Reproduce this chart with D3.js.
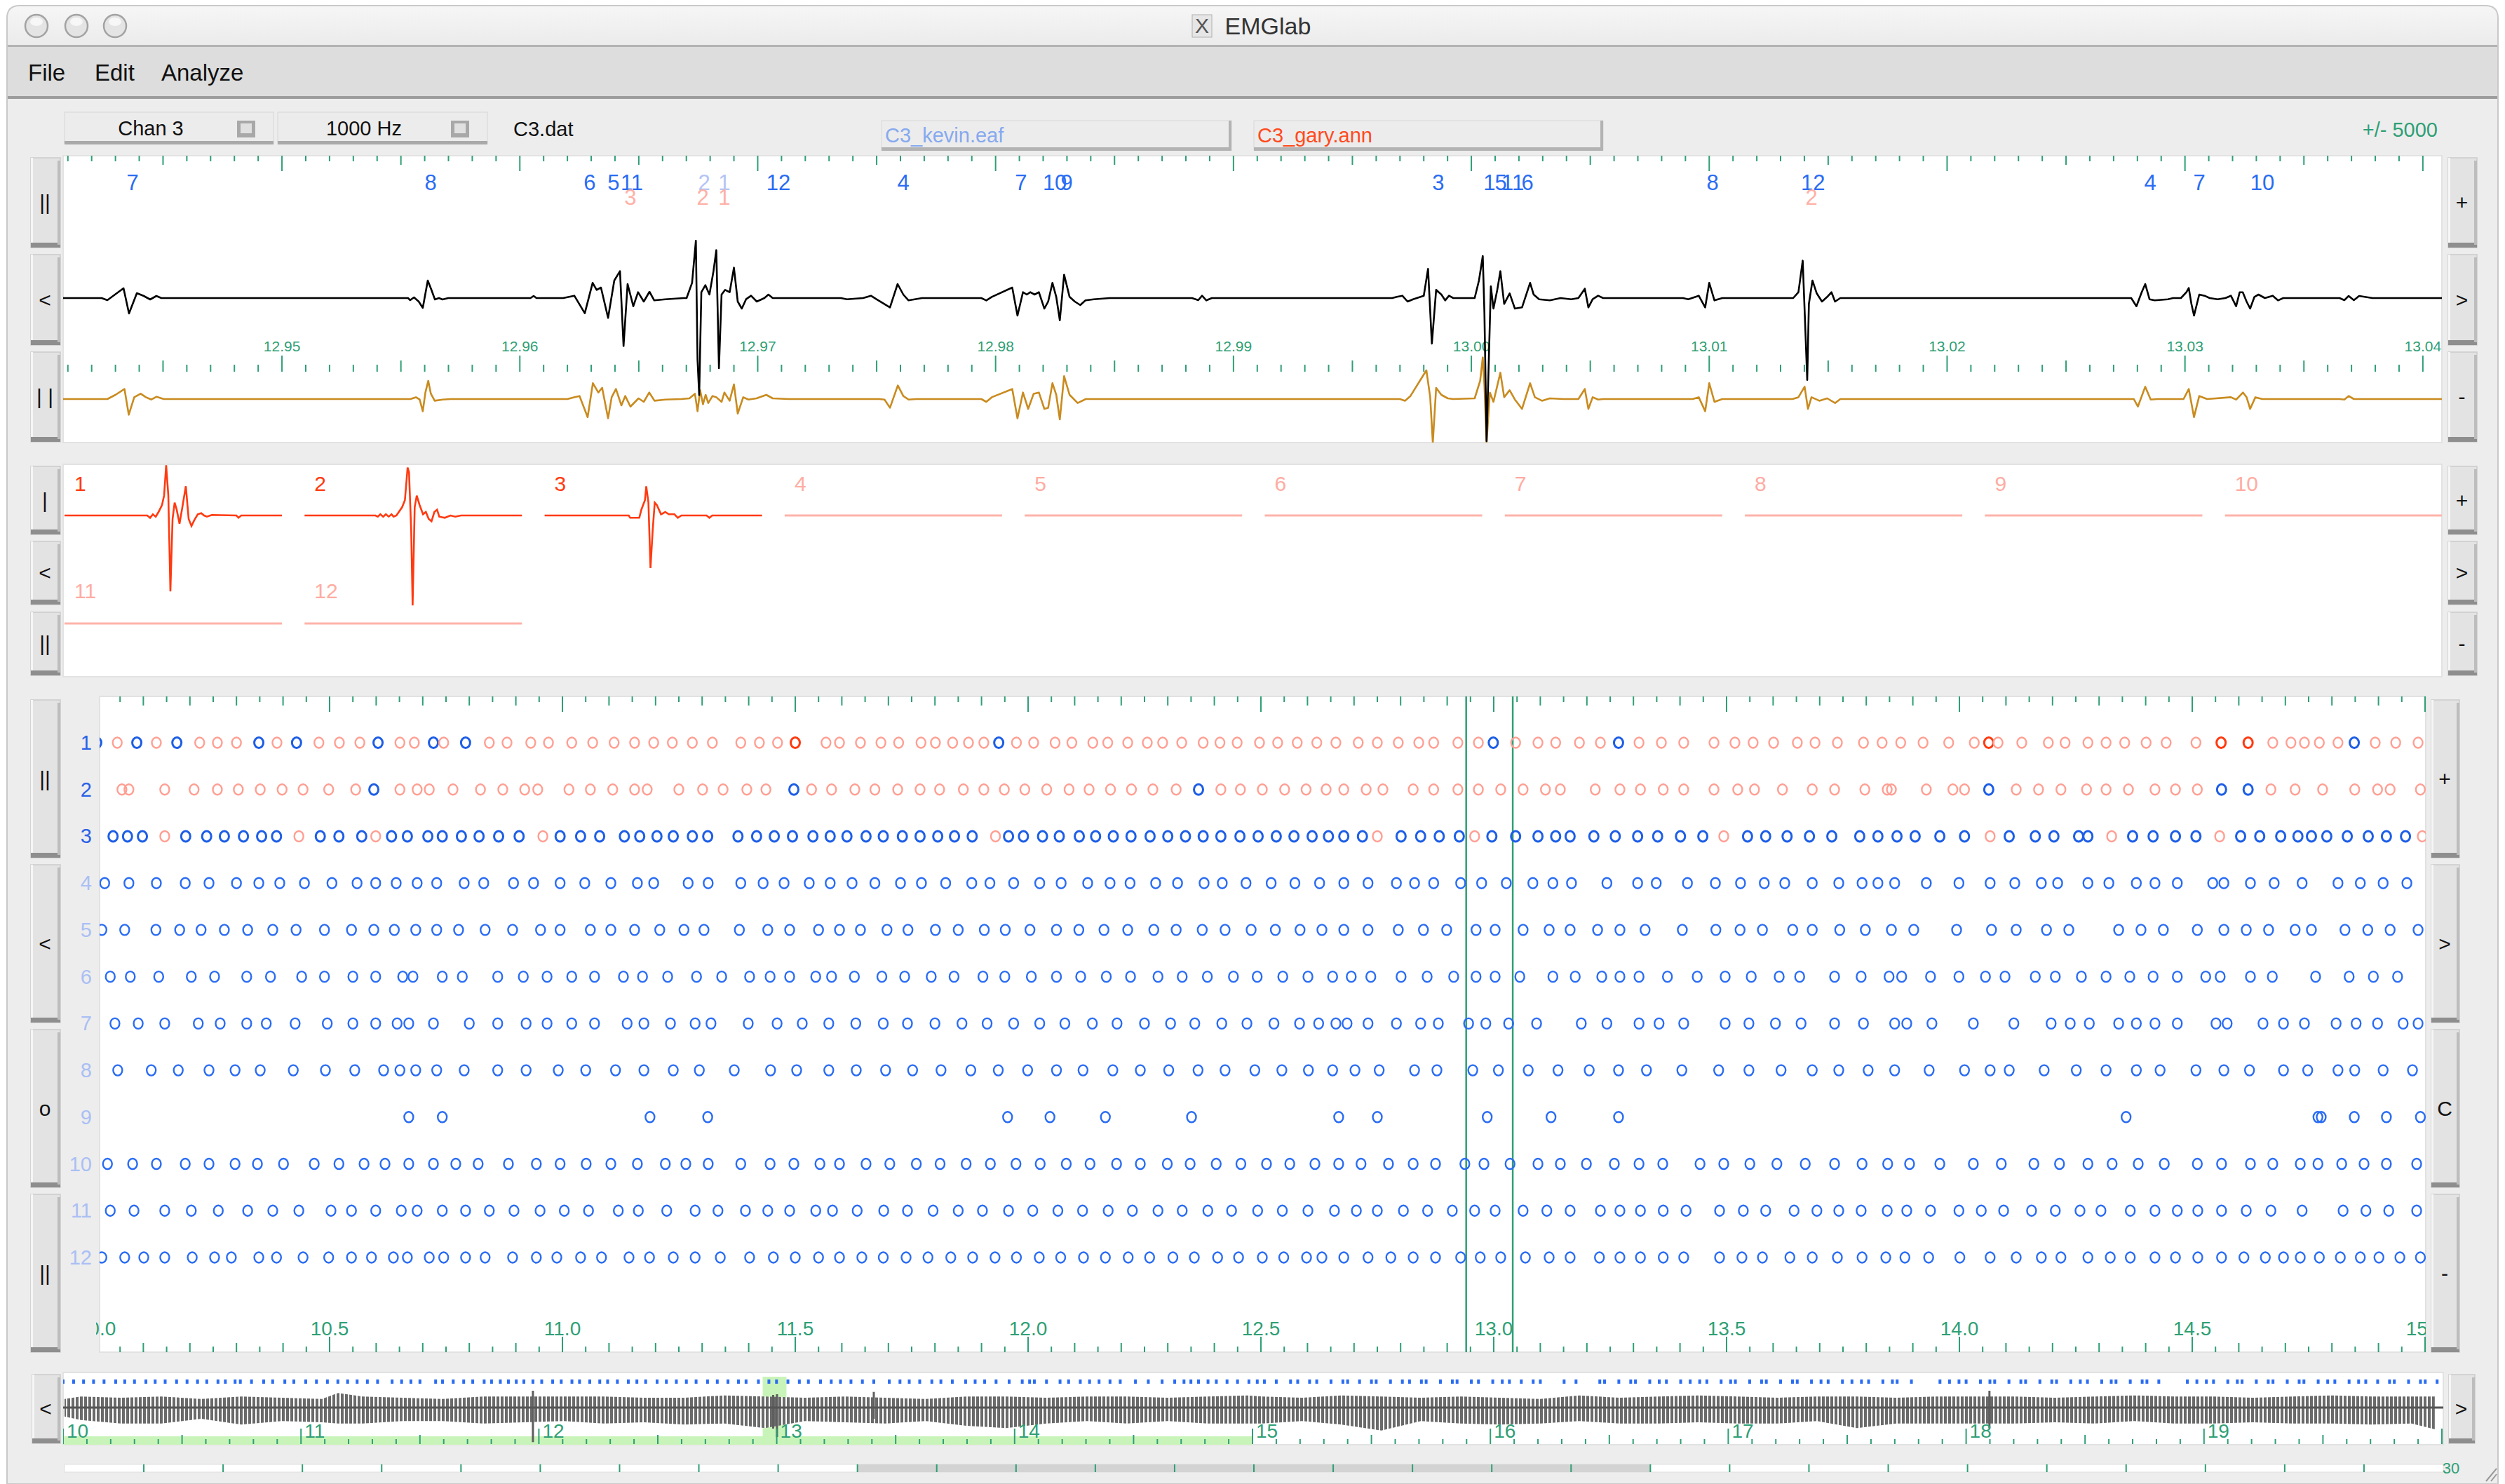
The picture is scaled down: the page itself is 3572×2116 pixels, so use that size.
<!DOCTYPE html>
<html><head><meta charset="utf-8">
<script src="https://cdn.jsdelivr.net/npm/d3@7"></script>
<style>html,body{margin:0;padding:0;background:#fff;}svg{display:block;font-family:"Liberation Sans",Arial,sans-serif;}</style>
</head><body><svg id="c" width="3572" height="2116"></svg>
<script>
// ---------------- DATA ----------------
const menuItems = ["File","Edit","Analyze"];
const channelLabel = "Chan 3", rateLabel = "1000 Hz", dataFile = "C3.dat";
const annFileA = "C3_kevin.eaf", annFileB = "C3_gary.ann", rangeLabel = "+/- 5000";

// signal window (s) and traces: [ms after signalT0, microvolts]
const signalT0 = 12.94;
const signalWindow = [12.9408, 13.0408];
const signalTickLabels = ["12.95","12.96","12.97","12.98","12.99","13.00","13.01","13.02","13.03","13.04"];
const blackTrace = [[0.8,0],
[2.42,0],[2.66,-75],[2.98,125],[3.34,350],[3.57,-550],[3.90,175],[4.19,75],[4.46,-50],[4.72,75],[4.93,0],
[15.30,0],[15.39,-75],[15.55,25],[15.75,-125],[15.92,-350],[16.13,625],[16.28,300],[16.43,-50],[16.6,0],[16.75,-50],[16.99,0],
[20.45,0],[20.58,75],[20.7,0],
[21.82,0],[22.29,83],[22.73,-542],[23.06,542],[23.23,292],[23.41,375],[23.71,-708],[23.97,625],[24.21,958],[24.36,-1708],[24.53,500],[24.77,-292],[24.97,208],[25.21,-125],[25.45,225],[25.65,-83],[26.12,-42],[26.89,0],
[27.01,0],[27.24,542],[27.40,2042],[27.47,-2200],[27.54,-3458],[27.63,208],[27.80,458],[27.97,125],[28.14,958],[28.26,1708],[28.37,-2500],[28.48,125],[28.63,292],[28.82,208],[29.00,1083],[29.16,-125],[29.33,-375],[29.51,-42],[29.72,83],[29.96,-125],[30.28,0],[30.45,125],[30.63,0],
[33.5,0],[33.75,-42],[34.43,0],[34.76,83],[34.99,-42],[35.56,-333],[35.88,500],[36.12,125],[36.34,-83],[36.91,0],
[39.4,0],[39.61,-83],[39.84,42],[40.70,375],[40.92,-625],[41.15,208],[41.31,125],[41.46,208],[41.64,125],[41.82,208],[42.05,-375],[42.21,-125],[42.39,542],[42.55,42],[42.70,-792],[42.88,833],[43.11,42],[43.33,-125],[43.56,-250],[43.78,-83],[44.13,-42],[44.80,0],
[48.26,0],[48.52,-75],[48.68,83],[48.86,-83],[49.09,0],
[56.67,0],[56.87,42],[57.10,83],[57.32,-125],[57.55,-42],[58.00,83],[58.18,1042],[58.34,-1625],[58.52,292],[58.74,125],[58.90,-83],[59.06,83],[59.24,0],
[60.14,0],[60.32,625],[60.48,1500],[60.55,-542],[60.64,-5100],[60.82,417],[60.93,-375],[61.09,292],[61.22,958],[61.38,-208],[61.61,167],[61.83,-375],[62.13,-333],[62.47,542],[62.62,125],[62.85,-42],[63.30,-83],[63.75,0],[64.20,-42],[64.50,0],[64.77,333],[64.92,-333],[65.10,-42],[65.33,83],[65.54,0],
[68.90,0],[69.12,-42],[69.56,83],[69.83,-333],[70.00,542],[70.22,-83],[70.55,0],
[73.53,0],[73.75,208],[73.93,1333],[74.03,-875],[74.12,-2917],[74.19,-208],[74.34,625],[74.52,167],[74.74,-125],[74.96,42],[75.14,208],[75.29,-125],[75.51,0],
[87.74,0],[87.96,-292],[88.18,208],[88.33,500],[88.51,-42],[88.73,-83],[89.28,-42],[89.50,0],
[89.83,0],[90.06,208],[90.16,358],[90.27,-208],[90.38,-625],[90.60,125],[90.82,83],[91.04,0],[91.37,-42],[91.70,0],
[91.93,83],[92.15,-292],[92.30,208],[92.43,208],[92.59,-125],[92.74,-375],[92.92,42],[93.09,125],[93.36,0],[93.69,83],[93.91,-83],[94.13,0],
[96.50,0],[96.70,-75],[96.88,75],[97.10,-75],[97.32,75],[97.88,0],[100.8,0]];
const orangeTrace = [[0.8,0],[2.66,0],[3.00,150],[3.38,358],[3.56,-560],[3.79,65],[4.06,190],[4.28,65],[4.51,-18],[4.73,83],[5.03,0],
[15.40,0],[15.63,65],[15.79,-18],[15.92,-435],[16.03,233],[16.15,650],[16.26,190],[16.42,-60],[16.76,-18],[17.09,0],
[22.0,0],[22.28,65],[22.51,108],[22.85,-642],[23.07,565],[23.30,233],[23.46,400],[23.71,-685],[23.86,65],[24.04,358],[24.27,-225],[24.43,108],[24.65,-268],[24.99,25],[25.21,-100],[25.44,233],[25.66,-60],[26.12,-18],[26.79,0],
[27.13,25],[27.36,190],[27.47,-435],[27.58,315],[27.70,-185],[27.81,150],[27.92,-142],[28.10,108],[28.26,65],[28.48,-100],[28.60,233],[28.82,-60],[29.00,525],[29.16,-518],[29.39,65],[29.61,-18],[29.95,25],[30.36,150],[30.63,25],[31.30,0],
[35.1,0],[35.33,-18],[35.56,-310],[35.89,483],[36.12,108],[36.34,-18],[36.68,0],
[39.4,0],[39.61,-100],[39.84,65],[40.70,358],[40.92,-685],[41.15,233],[41.37,-350],[41.60,190],[41.82,233],[42.05,-350],[42.21,-310],[42.39,565],[42.55,150],[42.70,-725],[42.88,815],[43.11,150],[43.45,-142],[43.79,0],
[57.0,0],[57.21,-60],[57.44,108],[58.11,1025],[58.27,65],[58.38,-1560],[58.52,400],[58.74,150],[59.01,25],[59.24,0],
[60.14,25],[60.37,650],[60.48,1483],[60.55,483],[60.64,-1560],[60.78,233],[60.93,-100],[61.22,940],[61.38,65],[61.61,315],[61.83,-18],[62.13,-350],[62.47,565],[62.67,65],[62.97,-60],[63.30,25],[63.87,0],[64.5,0],[64.77,358],[64.92,-350],[65.10,65],[65.33,-18],[65.55,0],
[69.3,0],[69.56,65],[69.83,-435],[70.00,565],[70.22,-100],[70.55,0],
[73.5,0],[73.75,65],[74.01,440],[74.15,-350],[74.30,65],[74.63,-60],[74.96,25],[75.29,-142],[75.51,0],
[87.85,0],[88.02,-268],[88.33,440],[88.56,-18],[88.84,0],
[89.94,0],[90.16,358],[90.38,-642],[90.60,108],[90.93,0],
[91.93,65],[92.15,-18],[92.44,233],[92.59,65],[92.74,-350],[92.96,65],[93.25,0],
[96.5,0],[96.70,-18],[96.88,108],[97.1,0],[100.8,0]];
// annotation labels in the signal window: [ms after signalT0, unit, faded?]
const kevinLabels = [[3.72,"7",0],[16.25,"8",0],[22.94,"6",0],[23.94,"5",0],[24.71,"11",0],[27.75,"2",1],[28.60,"1",1],[30.87,"12",0],[36.12,"4",0],[41.07,"7",0],[42.49,"10",0],[42.99,"9",0],[58.61,"3",0],[60.76,"1",0],[61.24,"5",0],[61.74,"11",0],[62.36,"6",0],[70.14,"8",0],[74.36,"12",0],[88.54,"4",0],[90.60,"7",0],[93.25,"10",0]];
const garyLabels = [[24.65,"3"],[27.69,"2"],[28.60,"1"],[74.30,"2"]];

// templates: [ms, microvolts]
const templateUnits = ["1","2","3","4","5","6","7","8","9","10","11","12"];
const templateActive = [1,1,1,0,0,0,0,0,0,0,0,0];
const template1 = [[-10,0],[-2.39,0],[-2.13,-83],[-1.87,42],[-1.61,-42],[-1.35,125],[-1.03,375],[-0.84,708],[-0.65,1792],[-0.45,708],[-0.26,-2708],[-0.06,-125],[0.13,458],[0.32,208],[0.58,-292],[0.84,292],[1.16,1042],[1.42,-125],[1.68,-375],[1.94,-167],[2.26,42],[2.58,83],[2.84,0],[3.10,-42],[3.55,17],[5.81,0],[6.0,-83],[6.26,0],[10,0]];
const template2 = [[-10,0],[-3.48,0],[-3.26,-42],[-3.03,42],[-2.77,-42],[-2.52,42],[-2.26,-42],[-2.0,42],[-1.81,-42],[-1.55,0],[-1.03,292],[-0.77,542],[-0.52,1708],[-0.39,1542],[-0.19,-542],[-0.06,-3208],[0.13,292],[0.32,708],[0.58,375],[0.90,42],[1.16,125],[1.42,-125],[1.68,-208],[1.94,125],[2.19,208],[2.39,-42],[2.90,-83],[3.42,0],[3.87,-42],[4.39,0],[10,0]];
const template3 = [[-10,0],[-2.26,0],[-2.13,-83],[-1.29,-83],[-1.10,208],[-0.77,542],[-0.65,1042],[-0.45,458],[-0.26,-1875],[-0.06,-542],[0.13,458],[0.32,375],[0.71,42],[1.10,125],[1.42,42],[1.94,42],[2.26,-83],[2.58,0],[4.90,0],[5.16,-83],[5.42,0],[10,0]];
const templateFlat = [[-10,0],[10,0]];

// raster: firing times (s); units 1-3 carry a code b=both/blue, p=second rater only, r=disagreement
const rasterUnits = ["1","2","3","4","5","6","7","8","9","10","11","12"];
const rasterTickLabels = ["10.0","10.5","11.0","11.5","12.0","12.5","13.0","13.5","14.0","14.5","15.0"];
const unit1 = [[10.000,"b"],[10.044,"p"],[10.086,"b"],[10.128,"p"],[10.172,"b"],[10.221,"p"],[10.259,"p"],[10.300,"p"],[10.348,"b"],[10.387,"p"],[10.429,"b"],[10.477,"p"],[10.521,"p"],[10.565,"p"],[10.604,"b"],[10.651,"p"],[10.682,"p"],[10.723,"b"],[10.745,"p"],[10.792,"b"],[10.843,"p"],[10.881,"p"],[10.932,"p"],[10.970,"p"],[11.020,"p"],[11.065,"p"],[11.111,"p"],[11.155,"p"],[11.196,"p"],[11.236,"p"],[11.279,"p"],[11.322,"p"],[11.383,"p"],[11.423,"p"],[11.462,"p"],[11.500,"r"],[11.566,"p"],[11.595,"p"],
[11.640,"p"],[11.684,"p"],[11.722,"p"],[11.770,"p"],[11.801,"p"],[11.838,"p"],[11.872,"p"],[11.905,"p"],[11.937,"b"],[11.975,"p"],[12.012,"p"],[12.058,"p"],[12.094,"p"],[12.139,"p"],[12.171,"p"],[12.214,"p"],[12.256,"p"],[12.289,"p"],[12.330,"p"],[12.376,"p"],[12.412,"p"],[12.449,"p"],[12.497,"p"],[12.536,"p"],[12.578,"p"],[12.620,"p"],
[12.661,"p"],[12.709,"p"],[12.750,"p"],[12.795,"p"],[12.839,"p"],[12.871,"p"],[12.923,"p"],[12.967,"p"],[12.999,"b"],[13.047,"p"],[13.095,"p"],[13.133,"p"],[13.184,"p"],[13.229,"p"],[13.268,"b"],[13.312,"p"],[13.360,"p"],[13.408,"p"],[13.473,"p"],[13.518,"p"],[13.557,"p"],[13.601,"p"],[13.652,"p"],[13.690,"p"],[13.738,"p"],[13.794,"p"],[13.834,"p"],[13.874,"p"],[13.922,"p"],[13.977,"p"],[14.032,"p"],[14.063,"r"],[14.083,"p"],[14.134,"p"],[14.191,"p"],[14.227,"p"],[14.276,"p"],[14.315,"p"],[14.355,"p"],[14.401,"p"],[14.444,"p"],[14.508,"p"],[14.562,"r"],[14.620,"r"],[14.673,"p"],[14.712,"p"],[14.741,"p"],[14.773,"p"],[14.813,"p"],[14.848,"b"],[14.893,"p"],[14.937,"p"],[14.985,"p"]];
const unit2 = [[10.054,"p"],[10.069,"p"],[10.146,"p"],[10.209,"p"],[10.259,"p"],[10.304,"p"],[10.351,"p"],[10.398,"p"],[10.443,"p"],[10.498,"p"],[10.556,"p"],[10.595,"b"],[10.651,"p"],[10.688,"p"],[10.714,"p"],[10.765,"p"],[10.824,"p"],[10.872,"p"],[10.919,"p"],[10.947,"p"],[11.014,"p"],[11.060,"p"],[11.108,"p"],[11.155,"p"],[11.182,"p"],[11.250,"p"],[11.301,"p"],[11.345,"p"],[11.396,"p"],[11.437,"p"],[11.497,"b"],[11.535,"p"],[11.578,"p"],
[11.628,"p"],[11.671,"p"],[11.720,"p"],[11.768,"p"],[11.810,"p"],[11.861,"p"],[11.905,"p"],[11.949,"p"],[11.993,"p"],[12.040,"p"],[12.088,"p"],[12.131,"p"],[12.177,"p"],[12.222,"p"],[12.268,"p"],[12.318,"p"],[12.366,"b"],[12.414,"p"],[12.456,"p"],[12.503,"p"],[12.551,"p"],[12.597,"p"],[12.640,"p"],
[12.678,"p"],[12.726,"p"],[12.762,"p"],[12.827,"p"],[12.871,"p"],[12.923,"p"],[12.967,"p"],[13.015,"p"],[13.063,"p"],[13.111,"p"],[13.143,"p"],[13.218,"p"],[13.271,"p"],[13.315,"p"],[13.364,"p"],[13.408,"p"],[13.473,"p"],[13.524,"p"],[13.560,"p"],[13.620,"p"],[13.684,"p"],[13.732,"p"],[13.797,"p"],[13.845,"p"],[13.854,"p"],[13.929,"p"],[13.986,"p"],[14.011,"p"],[14.063,"b"],[14.122,"p"],[14.170,"p"],[14.218,"p"],[14.273,"p"],[14.315,"p"],[14.363,"p"],[14.420,"p"],[14.464,"p"],[14.511,"p"],[14.563,"b"],[14.620,"b"],[14.669,"p"],[14.721,"p"],[14.780,"p"],[14.849,"p"],[14.898,"p"],[14.925,"p"],[14.990,"p"]];
const unit3 = [[10.035,"b"],[10.066,"b"],[10.098,"b"],[10.146,"p"],[10.191,"b"],[10.236,"b"],[10.274,"b"],[10.315,"b"],[10.354,"b"],[10.386,"b"],[10.434,"p"],[10.480,"b"],[10.520,"b"],[10.569,"b"],[10.599,"p"],[10.633,"b"],[10.667,"b"],[10.711,"b"],[10.742,"b"],[10.783,"b"],[10.821,"b"],[10.863,"b"],[10.907,"b"],[10.958,"p"],[10.995,"b"],[11.039,"b"],[11.080,"b"],[11.133,"b"],[11.166,"b"],[11.203,"b"],[11.238,"b"],[11.279,"b"],[11.312,"b"],[11.377,"b"],[11.417,"b"],[11.455,"b"],[11.494,"b"],[11.538,"b"],[11.575,"b"],
[11.611,"b"],[11.652,"b"],[11.689,"b"],[11.730,"b"],[11.768,"b"],[11.806,"b"],[11.842,"b"],[11.880,"b"],[11.930,"p"],[11.958,"b"],[11.990,"b"],[12.031,"b"],[12.067,"b"],[12.110,"b"],[12.145,"b"],[12.183,"b"],[12.221,"b"],[12.262,"b"],[12.300,"b"],[12.338,"b"],[12.376,"b"],[12.414,"b"],[12.455,"b"],[12.494,"b"],[12.533,"b"],[12.571,"b"],[12.610,"b"],[12.645,"b"],
[12.678,"b"],[12.718,"b"],[12.750,"p"],[12.801,"b"],[12.843,"b"],[12.883,"b"],[12.926,"b"],[12.959,"p"],[12.996,"b"],[13.047,"b"],[13.095,"b"],[13.133,"b"],[13.164,"b"],[13.215,"b"],[13.261,"b"],[13.309,"b"],[13.352,"b"],[13.401,"b"],[13.449,"b"],[13.494,"p"],[13.545,"b"],[13.584,"b"],[13.630,"b"],[13.678,"b"],[13.726,"b"],[13.786,"b"],[13.825,"b"],[13.866,"b"],[13.905,"b"],[13.958,"b"],[14.011,"b"],[14.066,"p"],[14.107,"b"],[14.163,"b"],[14.203,"b"],[14.256,"b"],[14.276,"b"],[14.327,"p"],[14.372,"b"],[14.416,"b"],[14.464,"b"],[14.508,"b"],[14.559,"p"],[14.604,"b"],[14.645,"b"],[14.690,"b"],[14.727,"b"],[14.756,"b"],[14.789,"b"],[14.833,"b"],[14.878,"b"],[14.917,"b"],[14.958,"b"],[14.994,"p"]];
const unit4 = [10.017,10.069,10.128,10.190,10.241,10.300,10.348,10.393,10.446,10.505,10.559,10.599,10.643,10.688,10.730,10.789,10.831,10.895,10.938,10.995,11.048,11.104,11.161,11.196,11.270,11.313,11.383,11.431,11.476,11.530,11.575,
11.622,11.671,11.726,11.771,11.823,11.879,11.918,11.969,12.025,12.071,12.128,12.176,12.219,12.274,12.321,12.378,12.417,12.468,12.522,12.573,12.626,
12.678,12.730,12.791,12.830,12.871,12.929,12.974,13.027,13.084,13.127,13.167,13.243,13.309,13.349,13.416,13.476,13.530,13.581,13.625,13.684,13.741,13.791,13.825,13.861,13.929,13.999,14.066,14.119,14.176,14.211,14.276,14.321,14.380,14.420,14.468,14.544,14.568,14.625,14.676,14.736,14.813,14.861,14.910,14.961];
const unit5 = [10.011,10.060,10.127,10.178,10.224,10.274,10.324,10.378,10.428,10.489,10.547,10.595,10.639,10.685,10.730,10.777,10.834,10.893,10.953,10.995,11.060,11.104,11.155,11.209,11.261,11.304,11.380,11.441,11.488,11.550,11.595,
11.640,11.697,11.742,11.801,11.850,11.906,11.951,12.004,12.061,12.109,12.163,12.214,12.270,12.318,12.374,12.423,12.479,12.531,12.584,12.631,
12.678,12.730,12.795,12.849,12.899,12.962,13.003,13.063,13.119,13.164,13.223,13.271,13.325,13.405,13.477,13.529,13.577,13.642,13.684,13.743,13.798,13.854,13.902,13.994,14.069,14.122,14.187,14.235,14.342,14.390,14.438,14.511,14.568,14.616,14.664,14.721,14.756,14.828,14.877,14.925,14.985];
const unit6 = [10.029,10.072,10.133,10.203,10.253,10.322,10.373,10.440,10.489,10.550,10.599,10.657,10.679,10.742,10.785,10.861,10.916,10.967,11.020,11.069,11.131,11.172,11.226,11.288,11.342,11.402,11.446,11.488,11.544,11.578,
11.627,11.686,11.735,11.792,11.841,11.903,11.950,12.007,12.061,12.113,12.168,12.220,12.279,12.331,12.385,12.441,12.492,12.547,12.601,
12.654,12.694,12.736,12.801,12.857,12.914,12.962,13.003,13.056,13.127,13.175,13.232,13.271,13.312,13.373,13.437,13.497,13.553,13.613,13.657,13.732,13.789,13.849,13.876,13.938,13.999,14.056,14.098,14.163,14.206,14.262,14.315,14.366,14.416,14.468,14.529,14.560,14.625,14.672,14.765,14.837,14.889,14.941];
const unit7 = [10.039,10.089,10.146,10.218,10.265,10.322,10.364,10.426,10.495,10.550,10.599,10.645,10.670,10.723,10.800,10.861,10.922,10.967,11.020,11.069,11.139,11.175,11.232,11.285,11.319,11.399,11.461,11.515,11.572,
11.630,11.689,11.741,11.800,11.858,11.912,11.969,12.025,12.079,12.138,12.191,12.250,12.306,12.358,12.416,12.470,12.528,12.583,12.624,
12.661,12.685,12.730,12.791,12.843,12.881,12.946,12.983,13.032,13.092,13.188,13.243,13.312,13.355,13.408,13.497,13.548,13.605,13.660,13.732,13.794,13.861,13.887,13.941,14.030,14.117,14.197,14.238,14.279,14.342,14.380,14.420,14.468,14.551,14.575,14.652,14.696,14.741,14.809,14.852,14.898,14.953,14.985];
const unit8 = [10.045,10.117,10.175,10.241,10.297,10.351,10.422,10.491,10.554,10.616,10.651,10.685,10.730,10.789,10.861,10.922,10.991,11.050,11.114,11.175,11.238,11.294,11.369,11.447,11.503,11.572,
11.631,11.694,11.752,11.813,11.877,11.936,11.999,12.061,12.118,12.182,12.241,12.302,12.365,12.423,12.487,12.545,12.602,
12.654,12.702,12.754,12.830,12.878,12.955,13.010,13.074,13.138,13.205,13.268,13.328,13.404,13.483,13.548,13.617,13.684,13.741,13.804,13.861,13.935,14.011,14.066,14.107,14.182,14.251,14.315,14.380,14.431,14.508,14.568,14.623,14.696,14.748,14.813,14.849,14.910,14.973];
const unit9 = [10.670,10.742,11.188,11.312,11.956,12.047,12.166,12.351,12.667,12.750,12.986,13.123,13.268,14.358,14.770,14.777,14.848,14.917,14.990];
const unit10 = [10.023,10.077,10.128,10.190,10.241,10.297,10.345,10.401,10.467,10.520,10.574,10.619,10.670,10.723,10.771,10.819,10.884,10.944,10.995,11.051,11.104,11.161,11.221,11.265,11.313,11.383,11.446,11.497,11.553,11.595,
11.652,11.703,11.760,11.811,11.867,11.919,11.974,12.026,12.082,12.133,12.190,12.241,12.299,12.348,12.404,12.457,12.512,12.562,12.616,
12.667,12.715,12.774,12.827,12.875,12.938,12.979,13.035,13.095,13.143,13.199,13.259,13.312,13.363,13.443,13.494,13.550,13.608,13.669,13.732,13.791,13.846,13.893,13.958,14.030,14.090,14.160,14.215,14.276,14.328,14.384,14.440,14.511,14.563,14.625,14.673,14.732,14.770,14.821,14.869,14.917,14.982];
const unit11 = [10.029,10.080,10.146,10.203,10.261,10.324,10.378,10.434,10.503,10.547,10.599,10.654,10.688,10.742,10.792,10.843,10.896,10.952,11.004,11.056,11.120,11.163,11.224,11.285,11.334,11.393,11.441,11.488,11.544,11.580,
11.633,11.690,11.741,11.796,11.850,11.902,11.958,12.010,12.064,12.117,12.172,12.224,12.279,12.331,12.386,12.437,12.493,12.546,12.601,
12.658,12.705,12.750,12.806,12.858,12.911,12.959,13.003,13.063,13.114,13.164,13.229,13.271,13.315,13.364,13.413,13.485,13.536,13.584,13.645,13.694,13.741,13.789,13.845,13.887,13.938,13.999,14.047,14.095,14.155,14.206,14.259,14.304,14.367,14.420,14.468,14.512,14.563,14.616,14.669,14.736,14.824,14.873,14.922,14.982];
const unit12 = [10.011,10.060,10.101,10.146,10.205,10.253,10.289,10.348,10.386,10.443,10.498,10.547,10.590,10.637,10.667,10.714,10.745,10.792,10.834,10.893,10.944,10.988,11.039,11.084,11.143,11.187,11.238,11.285,11.339,11.402,11.453,11.500,11.550,11.595,
11.643,11.689,11.738,11.785,11.834,11.881,11.929,11.975,12.024,12.070,12.119,12.166,12.215,12.261,12.311,12.357,12.407,12.452,12.503,12.549,12.598,12.631,
12.678,12.730,12.779,12.827,12.875,12.929,12.971,13.015,13.068,13.119,13.164,13.227,13.271,13.315,13.364,13.408,13.485,13.533,13.577,13.636,13.684,13.738,13.791,13.842,13.883,13.934,14.001,14.066,14.122,14.176,14.218,14.276,14.324,14.367,14.420,14.464,14.512,14.563,14.611,14.657,14.696,14.732,14.773,14.818,14.861,14.901,14.946,14.990];

// overview (10-20 s): envelope of the whole signal (microvolts), isolated tall spikes, annotation marks (s)
const overviewTickLabels = ["10","11","12","13","14","15","16","17","18","19"];
const overviewT  = [10.006,10.074,10.242,10.413,10.581,10.749,10.920,11.088,11.156,11.259,11.427,11.595,11.766,12.105,12.273,12.441,12.612,12.780,12.951,13.119,13.287,13.458,13.626,13.797,13.965,14.133,14.304,14.472,14.643,14.811,14.979,15.041,15.209,15.374,15.542,15.708,15.876,16.041,16.209,16.374,16.542,16.707,16.875,17.040,17.208,17.373,17.541,17.706,17.874,18.207,18.373,18.541,18.706,18.874,19.039,19.207,19.372,19.540,19.705,19.873,19.970];
const overviewUp = [1230,1570,1400,1570,1230,1570,1400,1230,2070,1570,1400,1230,1570,1570,1570,1400,1400,1730,1570,1400,1570,1400,1230,1570,1570,1400,1570,1570,1400,1570,1730,1570,1400,1730,1570,1400,1570,1400,1230,1730,1400,1570,1730,1570,1400,1570,1570,1400,1570,1570,1400,1570,1730,1570,1570,1400,1570,1730,1570,1570,1570];
const overviewDown = [-1270,-1770,-2270,-2270,-1600,-2430,-1930,-2100,-2270,-2270,-1930,-1930,-2270,-1930,-2270,-2100,-2430,-2270,-2930,-1930,-2100,-2270,-1930,-2600,-2930,-2270,-1930,-2270,-1930,-2270,-2270,-2270,-1930,-2430,-3270,-1930,-2270,-2430,-2270,-1930,-2270,-2270,-2100,-2270,-2270,-1930,-2930,-2270,-2270,-2270,-2100,-2270,-1930,-2270,-2270,-2100,-2270,-2270,-2430,-2270,-3100];
const overviewSpikes = [[11.975,2400,-4930],[13.408,2230,-1600],[18.098,2400,-2930],[12.985,1800,-3000],[13.001,1900,-4200]];
const overviewMarksLate = [15.02,15.05,15.10,15.16,15.19,15.24,15.27,15.33,15.38,15.40,15.45,15.50,15.52,15.58,15.63,15.66,15.71,15.73,15.79,15.84,15.86,15.92,15.95,16.01,16.05,16.08,16.13,16.18,16.21,16.31,16.36,16.46,16.48,16.54,16.59,16.61,16.67,16.71,16.74,16.80,16.84,16.88,16.91,16.97,17.01,17.03,17.09,17.14,17.16,17.22,17.27,17.29,17.35,17.39,17.42,17.48,17.52,17.56,17.59,17.65,17.69,17.71,17.77,17.89,17.93,17.97,18.00,18.06,18.10,18.12,18.18,18.23,18.25,18.31,18.36,18.38,18.44,18.48,18.51,18.57,18.61,18.63,18.69,18.74,18.76,18.81,18.93,18.97,19.01,19.04,19.10,19.14,19.16,19.22,19.27,19.29,19.35,19.40,19.42,19.48,19.52,19.55,19.61,19.65,19.68,19.73,19.78,19.80,19.86,19.91,19.93,19.98];
const scrollTotal = 30, scrollView = [10, 20];

// ---------------- DRAWING ----------------
const GREEN="#2f9f75", BLUE="#2a6cf3", DBLUE="#1d5ee6", LBLUE="#aabff4", PINK="#ff9f93", RED="#ff3a10", ORANGE="#c98b1f";
const svg = d3.select("#c");
const defs = svg.append("defs");
function clip(id,x,y,w,h){defs.append("clipPath").attr("id",id).append("rect").attr("x",x).attr("y",y).attr("width",w).attr("height",h);}
const tg = defs.append("linearGradient").attr("id","tbar").attr("x1",0).attr("y1",0).attr("x2",0).attr("y2",1);
tg.append("stop").attr("offset","0").attr("stop-color","#f6f6f6");
tg.append("stop").attr("offset","1").attr("stop-color","#ebebeb");
const pat = defs.append("pattern").attr("id","hair").attr("patternUnits","userSpaceOnUse").attr("width",6).attr("height",200);
pat.append("rect").attr("width",6).attr("height",200).attr("fill","#ffffff");
pat.append("rect").attr("width",4).attr("height",200).attr("fill","#6a6a6a");

// window frame
svg.append("path").attr("d","M10,2116 V26 Q10,8 28,8 H3544 Q3562,8 3562,26 V2116 Z").attr("fill","#ededed").attr("stroke","#c9c9c9").attr("stroke-width",2);
svg.append("path").attr("d","M11,65 V27 Q11,9 29,9 H3543 Q3561,9 3561,27 V65 Z").attr("fill","url(#tbar)");
svg.append("rect").attr("x",11).attr("y",64).attr("width",3550).attr("height",3).attr("fill","#b3b3b3");
[52,109,164].forEach(cx=>{
  svg.append("circle").attr("cx",cx).attr("cy",37).attr("r",16).attr("fill","#e4e4e4").attr("stroke","#a3a3a3").attr("stroke-width",2.5);
  svg.append("ellipse").attr("cx",cx).attr("cy",31).attr("rx",9).attr("ry",6).attr("fill","#f7f7f7");
});
svg.append("rect").attr("x",1700).attr("y",21).attr("width",28).attr("height",32).attr("fill","#e6e6e6").attr("stroke","#b0b0b0");
svg.append("text").attr("x",1714).attr("y",47).attr("text-anchor","middle").attr("font-size",30).attr("fill","#555").text("X");
svg.append("text").attr("x",1808).attr("y",49).attr("text-anchor","middle").attr("font-size",34).attr("fill","#333").text("EMGlab");

// menu bar
svg.append("rect").attr("x",11).attr("y",67).attr("width",3550).attr("height",71).attr("fill","#dcdddc");
svg.append("rect").attr("x",11).attr("y",137).attr("width",3550).attr("height",4).attr("fill","#9d9d9d");
const menuX=[40,135,230];
menuItems.forEach((m,i)=>svg.append("text").attr("x",menuX[i]).attr("y",115).attr("font-size",33).attr("fill","#111").text(m));

// control row
function dropbox(x,w,label){
  svg.append("rect").attr("x",x).attr("y",160).attr("width",w).attr("height",45).attr("fill","#ececec").attr("stroke","#d6d6d6");
  svg.append("rect").attr("x",x).attr("y",201).attr("width",w).attr("height",5).attr("fill","#a9a9a9");
  svg.append("text").attr("x",x+123).attr("y",193).attr("text-anchor","middle").attr("font-size",29).attr("fill","#111").text(label);
  svg.append("rect").attr("x",x+w-52).attr("y",172).attr("width",26).attr("height",24).attr("fill","#a8a8a8");
  svg.append("rect").attr("x",x+w-47).attr("y",176).attr("width",16).attr("height",14).attr("fill","#e0e0e0");
}
dropbox(92,298,channelLabel); dropbox(396,299,rateLabel);
svg.append("text").attr("x",732).attr("y",194).attr("font-size",29).attr("fill","#111").text(dataFile);
function annbox(x,w,label,col){
  svg.append("rect").attr("x",x).attr("y",172).attr("width",w).attr("height",42).attr("fill","#ececec").attr("stroke","#d8d8d8");
  svg.append("rect").attr("x",x).attr("y",210).attr("width",w).attr("height",5).attr("fill","#b3b3b3");
  svg.append("rect").attr("x",x+w-4).attr("y",172).attr("width",4).attr("height",43).attr("fill","#b3b3b3");
  svg.append("text").attr("x",x+5).attr("y",203).attr("font-size",29).attr("fill",col).text(label);
}
annbox(1257,499,annFileA,"#86a9ef"); annbox(1788,498,annFileB,"#ff4a1c");
svg.append("text").attr("x",3476).attr("y",195).attr("text-anchor","end").attr("font-size",29).attr("fill",GREEN).text(rangeLabel);

// buttons
function button(x,y,w,h,label){
  const g=svg.append("g");
  g.append("rect").attr("x",x).attr("y",y).attr("width",w).attr("height",h).attr("fill","#e3e3e3").attr("stroke","#cbcbcb").attr("stroke-width",1.5);
  g.append("rect").attr("x",x).attr("y",y+h-7).attr("width",w).attr("height",7).attr("fill","#8e8e8e");
  g.append("rect").attr("x",x+w-4).attr("y",y+4).attr("width",4).attr("height",h-8).attr("fill","#bdbdbd");
  g.append("rect").attr("x",x).attr("y",y).attr("width",3).attr("height",h-7).attr("fill","#f6f6f6");
  g.append("text").attr("x",x+w/2-1).attr("y",y+h/2+10).attr("text-anchor","middle").attr("font-size",30).attr("fill","#111").text(label);
}

// ---------- top signal panel ----------
const TP={x:90,y:222,w:3392,h:409};
clip("cTop",TP.x,TP.y,TP.w,TP.h);
svg.append("rect").attr("x",TP.x).attr("y",TP.y).attr("width",TP.w).attr("height",TP.h).attr("fill","#fff").attr("stroke","#e2e2e2").attr("stroke-width",2);
const sx=d3.scaleLinear().domain(signalWindow).range([TP.x,TP.x+TP.w]);
const syB=d3.scaleLinear().domain([-5000,5000]).range([625,225]);
const syO=d3.scaleLinear().domain([-5000,5000]).range([769,369]);
const topG=svg.append("g").attr("clip-path","url(#cTop)");
d3.range(12941,13041).forEach(k=>{
  const x=sx(k/1000), len=k%10===0?22:(k%5===0?13:8), len2=k%10===0?23:(k%5===0?16:10);
  topG.append("line").attr("x1",x).attr("x2",x).attr("y1",TP.y).attr("y2",TP.y+len).attr("stroke",GREEN).attr("stroke-width",2);
  topG.append("line").attr("x1",x).attr("x2",x).attr("y1",530-len2).attr("y2",530).attr("stroke",GREEN).attr("stroke-width",2);
});
signalTickLabels.forEach(l=>topG.append("text").attr("x",sx(+l)).attr("y",501).attr("text-anchor","middle").attr("font-size",21).attr("fill",GREEN).text(l));
kevinLabels.forEach(d=>topG.append("text").attr("x",sx(signalT0+d[0]/1000)).attr("y",271).attr("text-anchor","middle").attr("font-size",31).attr("fill",d[2]?"#b3c4f6":BLUE).text(d[1]));
garyLabels.forEach(d=>topG.append("text").attr("x",sx(signalT0+d[0]/1000)).attr("y",292).attr("text-anchor","middle").attr("font-size",31).attr("fill","#ffb0a6").text(d[1]));
topG.append("path").datum(orangeTrace).attr("fill","none").attr("stroke",ORANGE).attr("stroke-width",2.6).attr("stroke-linejoin","round")
  .attr("d",d3.line().x(d=>sx(signalT0+d[0]/1000)).y(d=>syO(d[1])));
topG.append("path").datum(blackTrace).attr("fill","none").attr("stroke","#000").attr("stroke-width",2.6).attr("stroke-linejoin","round")
  .attr("d",d3.line().x(d=>sx(signalT0+d[0]/1000)).y(d=>syB(d[1])));
button(44,225,42,128,"||"); button(44,363,42,129,"<"); button(44,502,42,128,"| |");
button(3491,225,41,128,"+"); button(3491,363,41,129,">"); button(3491,502,41,128,"-");

// ---------- template panel ----------
const MP={x:90,y:662,w:3392,h:303};
clip("cTmp",MP.x,MP.y,MP.w,MP.h);
svg.append("rect").attr("x",MP.x).attr("y",MP.y).attr("width",MP.w).attr("height",MP.h).attr("fill","#fff").attr("stroke","#e2e2e2").attr("stroke-width",2);
const tmpG=svg.append("g").attr("clip-path","url(#cTmp)");
const tWaves=[template1,template2,template3];
const slot=d3.scaleLinear().domain([0,1]).range([92,434.3]);
templateUnits.forEach((u,i)=>{
  const col=i%10, row=Math.floor(i/10);
  const x0=slot(col), base=row?889:735;
  const tx=d3.scaleLinear().domain([-10,10]).range([x0,x0+310]);
  const ty=d3.scaleLinear().domain([-5000,5000]).range([base+200,base-200]);
  const c=templateActive[i]?RED:"#ffb3aa";
  tmpG.append("path").datum(tWaves[i]||templateFlat).attr("fill","none").attr("stroke",c).attr("stroke-width",templateActive[i]?2.6:3.2)
    .attr("d",d3.line().x(d=>tx(d[0])).y(d=>ty(d[1])));
  tmpG.append("text").attr("x",x0+14).attr("y",row?853:700).attr("font-size",30).attr("fill",templateActive[i]?RED:"#ffaca2").text(u);
});
button(44,665,42,97,"|"); button(44,772,42,90,"<"); button(44,873,42,90,"||");
button(3491,665,41,97,"+"); button(3491,772,41,90,">"); button(3491,873,41,90,"-");

// ---------- raster panel ----------
const RP={x:142,y:993,w:3317,h:935};
clip("cRas",RP.x,RP.y,RP.w,RP.h);
clip("cRasLab",137,RP.y,RP.w+5,RP.h);
svg.append("rect").attr("x",RP.x).attr("y",RP.y).attr("width",RP.w).attr("height",RP.h).attr("fill","#fff").attr("stroke","#e2e2e2").attr("stroke-width",2);
const rx=d3.scaleLinear().domain([10,15]).range([138,3458]);
const ry=d3.scaleLinear().domain([1,12]).range([1059,1793]);
const rasG=svg.append("g").attr("clip-path","url(#cRas)");
d3.range(200,301).forEach(k=>{
  const x=rx(k/20), len=k%10===0?22:(k%2===0?13:8);
  rasG.append("line").attr("x1",x).attr("x2",x).attr("y1",RP.y).attr("y2",RP.y+len).attr("stroke",GREEN).attr("stroke-width",2);
  rasG.append("line").attr("x1",x).attr("x2",x).attr("y1",RP.y+RP.h-len).attr("y2",RP.y+RP.h).attr("stroke",GREEN).attr("stroke-width",2);
});
const labG=svg.append("g").attr("clip-path","url(#cRasLab)");
rasterTickLabels.forEach(l=>labG.append("text").attr("x",rx(+l)).attr("y",1904).attr("text-anchor","middle").attr("font-size",28).attr("fill",GREEN).text(l));
signalWindow.forEach(t=>rasG.append("line").attr("x1",rx(t)).attr("x2",rx(t)).attr("y1",RP.y).attr("y2",RP.y+RP.h).attr("stroke",GREEN).attr("stroke-width",2.5));
const unitData=[unit1,unit2,unit3,unit4,unit5,unit6,unit7,unit8,unit9,unit10,unit11,unit12];
const codeCol={b:DBLUE,p:PINK,r:RED};
unitData.forEach((arr,i)=>{
  const y=ry(i+1);
  arr.forEach(d=>{
    const t=Array.isArray(d)?d[0]:d, c=Array.isArray(d)?codeCol[d[1]]:BLUE;
    const w=Array.isArray(d)&&d[1]!=="p"?3:2.4;
    rasG.append("ellipse").attr("cx",rx(t)).attr("cy",y).attr("rx",6.5).attr("ry",7.5).attr("fill","none").attr("stroke",c).attr("stroke-width",w);
  });
});
rasterUnits.forEach((u,i)=>svg.append("text").attr("x",131).attr("y",ry(i+1)+10).attr("text-anchor","end").attr("font-size",29).attr("fill",i<3?"#2a62e8":LBLUE).text(u));
button(44,998,42,225,"||"); button(44,1233,42,225,"<"); button(44,1468,42,225,"o"); button(44,1703,42,225,"||");
button(3467,998,40,225,"+"); button(3467,1233,40,225,">"); button(3467,1468,40,225,"C"); button(3467,1703,40,225,"-");

// ---------- overview panel ----------
const OP={x:90,y:1957,w:3394,h:103};
clip("cOv",OP.x,OP.y,OP.w,OP.h);
svg.append("rect").attr("x",OP.x).attr("y",OP.y).attr("width",OP.w).attr("height",OP.h).attr("fill","#fff").attr("stroke","#e2e2e2").attr("stroke-width",2);
const ox=d3.scaleLinear().domain([10,20]).range([90,3482]);
const oy=d3.scaleLinear().domain([-5000,5000]).range([2057,1957]);
const ovG=svg.append("g").attr("clip-path","url(#cOv)");
ovG.append("rect").attr("x",ox(10)).attr("y",2048).attr("width",ox(15)-ox(10)).attr("height",12).attr("fill","#c9f4b9");
ovG.append("rect").attr("x",ox(signalWindow[0])).attr("y",1963).attr("width",ox(signalWindow[1])-ox(signalWindow[0])).attr("height",97).attr("fill","#c9f4b9");
const env=overviewT.map((t,i)=>[t,overviewUp[i],overviewDown[i]]);
ovG.append("path").datum(env).attr("fill","url(#hair)").attr("d",d3.area().x(d=>ox(d[0])).y0(d=>oy(d[2])).y1(d=>oy(d[1])));
overviewSpikes.forEach(d=>ovG.append("line").attr("x1",ox(d[0])).attr("x2",ox(d[0])).attr("y1",oy(d[1])).attr("y2",oy(d[2])).attr("stroke","#5e5e5e").attr("stroke-width",3));
ovG.append("line").attr("x1",OP.x).attr("x2",OP.x+OP.w).attr("y1",oy(0)).attr("y2",oy(0)).attr("stroke","#555").attr("stroke-width",3);
const marks=unit1.map(d=>d[0]).concat(overviewMarksLate);
marks.forEach(t=>ovG.append("rect").attr("x",ox(t)-2).attr("y",1967).attr("width",4).attr("height",6).attr("fill",BLUE));
d3.range(100,201).forEach(k=>{
  const x=ox(k/10), len=k%10===0?22:(k%5===0?13:7);
  ovG.append("line").attr("x1",x).attr("x2",x).attr("y1",2059-len).attr("y2",2059).attr("stroke",GREEN).attr("stroke-width",2);
});
overviewTickLabels.forEach(l=>ovG.append("text").attr("x",ox(+l)+5).attr("y",2050).attr("font-size",28).attr("fill",GREEN).text(l));
button(46,1960,40,98,"<"); button(3492,1960,37,98,">");

// ---------- scrollbar ----------
const sb=d3.scaleLinear().domain([0,scrollTotal]).range([92,3484]);
svg.append("rect").attr("x",sb(0)).attr("y",2088).attr("width",sb(30)-sb(0)).attr("height",11).attr("fill","#fff").attr("stroke","#e0e0e0");
svg.append("rect").attr("x",sb(scrollView[0])).attr("y",2088).attr("width",sb(scrollView[1])-sb(scrollView[0])).attr("height",11).attr("fill","#d3d3d3");
d3.range(1,30).forEach(k=>svg.append("line").attr("x1",sb(k)).attr("x2",sb(k)).attr("y1",2088).attr("y2",2099).attr("stroke",GREEN).attr("stroke-width",2));
svg.append("text").attr("x",3495).attr("y",2101).attr("text-anchor","middle").attr("font-size",22).attr("fill",GREEN).text(String(scrollTotal));
svg.append("path").attr("d","M3545,2112 L3560,2094 M3552,2112 L3560,2102").attr("stroke","#999").attr("stroke-width",2);
</script></body></html>
